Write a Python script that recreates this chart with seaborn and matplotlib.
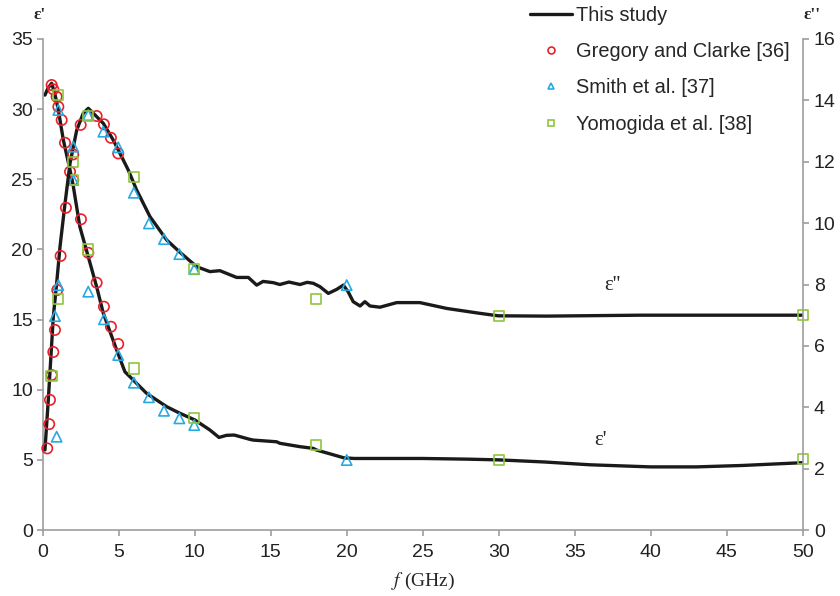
import matplotlib
matplotlib.use('Agg')
import matplotlib.pyplot as plt
from matplotlib.lines import Line2D
import seaborn as sns

# This study - eps' (left axis)
f_eps1 = [0.15, 0.35, 0.59, 0.8, 1.03, 1.36, 1.80, 2.0, 2.45, 3.0, 3.55, 3.99, 4.87, 5.41,
          5.96, 6.84, 8.16, 9.03, 10.02, 10.35, 11.0, 11.6, 12.1, 12.6, 13.64, 13.86, 15.39,
          15.61, 16.93, 17.8, 18.02, 19.0, 19.8, 20.5, 25.0, 28.0, 30.0, 33.0, 36.0, 40.0,
          43.0, 46.0, 50.0]
eps1 = [31.0, 31.5, 31.84, 31.1, 29.94, 27.8, 25.66, 24.6, 21.6, 19.48, 17.34, 15.45, 12.83, 11.28,
        10.69, 9.74, 8.79, 8.32, 7.84, 7.6, 7.13, 6.6, 6.75, 6.77, 6.46, 6.41, 6.29,
        6.18, 5.94, 5.82, 5.70, 5.4, 5.15, 5.1, 5.1, 5.05, 5.0, 4.85, 4.65, 4.5,
        4.5, 4.6, 4.8]

# This study - eps'' (right axis)
f_eps2 = [0.15, 0.37, 0.70, 0.92, 1.14, 1.47, 1.80, 2.24, 2.67, 3.0, 3.33, 3.99, 4.64, 5.30,
          5.63, 6.18, 7.06, 8.16, 9.03, 10.13, 11.0, 11.66, 12.76, 13.53, 14.08, 14.5, 15.17,
          15.6, 16.2, 16.93, 17.4, 17.8, 18.24, 18.79, 19.34, 19.78, 20.1, 20.43, 20.88, 21.2,
          21.53, 22.19, 23.29, 24.82, 26.58, 28.77, 29.97, 33.16, 39.3, 50.0]
eps2 = [2.61, 4.24, 6.95, 8.04, 9.23, 10.64, 11.95, 13.03, 13.58, 13.74, 13.58, 13.25, 12.71, 12.06,
        11.73, 11.08, 10.21, 9.45, 9.05, 8.58, 8.42, 8.45, 8.23, 8.23, 7.98, 8.1, 8.06,
        8.0, 8.08, 8.0, 8.07, 8.04, 7.93, 7.71, 7.84, 7.98, 7.76, 7.44, 7.30, 7.44,
        7.30, 7.26, 7.41, 7.41, 7.22, 7.06, 6.98, 6.97, 7.0, 7.0]

# Gregory and Clarke [36]
gc_f1 = [0.59, 0.70, 0.92, 1.03, 1.25, 1.47, 1.80, 2.01, 2.52, 3.0, 3.55, 4.03, 4.49, 4.97]
gc_eps1 = [31.72, 31.41, 30.88, 30.17, 29.22, 27.6, 25.54, 24.95, 22.15, 19.76, 17.63, 15.92, 14.49, 13.26]
gc_f2 = [0.30, 0.43, 0.48, 0.59, 0.70, 0.81, 0.96, 1.18, 1.53, 2.01, 2.50, 3.55, 4.03, 4.49, 4.97]
gc_eps2 = [2.66, 3.45, 4.24, 5.05, 5.80, 6.52, 7.82, 8.93, 10.50, 12.24, 13.2, 13.49, 13.22, 12.78, 12.27]

# Smith et al. [37]
sm_f1 = [1.03, 2.01, 3.0, 4.03, 4.97, 6.0, 6.99, 7.98, 8.99, 9.97, 20.0]
sm_eps1 = [29.94, 24.95, 16.99, 15.02, 12.47, 10.5, 9.46, 8.5, 7.96, 7.48, 4.99]
sm_f2 = [0.81, 0.92, 1.03, 2.01, 3.0, 3.99, 4.97, 6.0, 6.99, 7.98, 8.99, 9.97, 20.0]
sm_eps2 = [6.97, 3.04, 7.98, 12.49, 13.52, 12.98, 12.47, 10.99, 9.99, 9.48, 8.99, 8.50, 7.98]

# Yomogida et al. [38]
yo_f1 = [1.03, 2.01, 3.0, 6.0, 9.97, 17.98, 30.0, 50.0]
yo_eps1 = [31.0, 24.95, 20.0, 11.52, 8.0, 6.06, 4.99, 5.06]
yo_f2 = [0.59, 1.03, 2.01, 3.0, 6.0, 9.97, 17.98, 30.0, 50.0]
yo_eps2 = [5.02, 7.52, 12.0, 13.49, 11.51, 8.50, 7.52, 6.98, 7.0]

sns.set_style('white')
plt.rcParams['font.family'] = ['Liberation Sans', 'DejaVu Sans']
plt.rcParams['mathtext.fontset'] = 'stix'

red, blue, green = '#e8202a', '#27aae1', '#8dc63f'
grey = '#9d9d9d'
serif = ['Liberation Serif', 'DejaVu Serif']

fig = plt.figure(figsize=(8.4, 5.96), dpi=100)
ax = fig.add_axes([0.0508, 0.1107, 0.9048, 0.8239])
ax2 = ax.twinx()

sns.lineplot(x=f_eps1, y=eps1, ax=ax, color='#1a1a1a', lw=2.4, sort=False, estimator=None, zorder=2)
sns.lineplot(x=f_eps2, y=eps2, ax=ax2, color='#1a1a1a', lw=2.4, sort=False, estimator=None, zorder=2)


def hollow(axis, x, y, marker, color):
    sns.scatterplot(x=x, y=y, ax=axis, marker=marker, s=55, color=color, facecolor='none',
                    edgecolor=color, linewidth=1.2, clip_on=False, zorder=4)


hollow(ax, gc_f1, gc_eps1, 'o', red)
hollow(ax2, gc_f2, gc_eps2, 'o', red)
hollow(ax, sm_f1, sm_eps1, '^', blue)
hollow(ax2, sm_f2, sm_eps2, '^', blue)
hollow(ax, yo_f1, yo_eps1, 's', green)
hollow(ax2, yo_f2, yo_eps2, 's', green)

ax.set_xlim(0, 50)
ax.set_ylim(0, 35)
ax2.set_ylim(0, 16)
ax.set_xticks(range(0, 51, 5))
ax.set_yticks(range(0, 36, 5))
ax2.set_yticks(range(0, 17, 2))

for a in (ax, ax2):
    for s in a.spines.values():
        s.set_color(grey)
        s.set_linewidth(1.2)
    a.spines['top'].set_visible(False)
    a.tick_params(direction='out', length=4, width=1.2, color=grey, labelsize=14,
                  labelcolor='#222222', pad=3)
ax2.spines['left'].set_visible(False)
ax2.spines['bottom'].set_visible(False)
ax.spines['right'].set_visible(False)
ax.tick_params(axis='y', left=True)
ax.tick_params(axis='x', bottom=True, pad=6)
ax2.tick_params(axis='y', right=True, pad=4)
ax.set_ylabel('')
ax2.set_ylabel('')

ax.set_xlabel(r'$f$ (GHz)', fontsize=14, family=serif, labelpad=7)

fig.text(40 / 840, 1 - 15 / 596, "ε'", ha='center', va='center', fontsize=12.5,
         family=serif, fontweight='bold')
fig.text(812 / 840, 1 - 15 / 596, "ε''", ha='center', va='center', fontsize=12.5,
         family=serif, fontweight='bold')

ax.text(37.5, 17.4, "ε''", ha='center', va='center', fontsize=15, family=serif)
ax.text(36.7, 6.4, "ε'", ha='center', va='center', fontsize=15, family=serif)

handles = [
    Line2D([], [], color='#1a1a1a', lw=2.4),
    Line2D([], [], ls='', marker='o', ms=5, mfc='none', mec=red, mew=1.2),
    Line2D([], [], ls='', marker='^', ms=5, mfc='none', mec=blue, mew=1.2),
    Line2D([], [], ls='', marker='s', ms=5, mfc='none', mec=green, mew=1.2),
]
labels = ['This study', 'Gregory and Clarke [36]', 'Smith et al. [37]', 'Yomogida et al. [38]']
fig.legend(handles, labels, loc='upper left', bbox_to_anchor=(530 / 840, 1 - 6 / 596),
           frameon=False, fontsize=14.4, handlelength=2.1, handletextpad=0.2,
           labelspacing=0.86, borderpad=0, borderaxespad=0)

plt.savefig('out.png', dpi=100)
